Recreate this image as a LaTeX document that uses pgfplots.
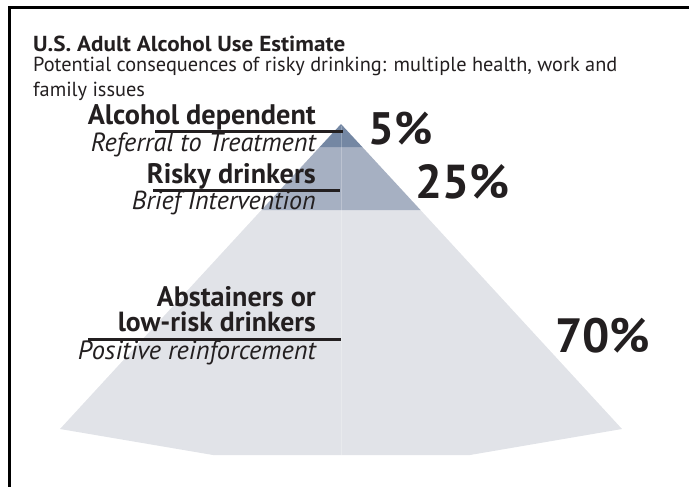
\documentclass[border=0pt]{standalone}
\usepackage{pgfplots}
\pgfplotsset{compat=1.18}
\usepackage{fontspec}
\setmainfont{PT Sans}
\usepackage{graphicx}
\definecolor{ink}{HTML}{231F20}
\definecolor{band1}{HTML}{7487A3}
\definecolor{band2}{HTML}{A6B0C2}
\definecolor{band3}{HTML}{E1E3E8}
\newcommand{\fw}[2]{\resizebox{#1bp}{!}{#2}}
\begin{document}
\begin{tikzpicture}
\useasboundingbox (0,0) rectangle (689bp,487bp);
\begin{axis}[
  at={(0,0)}, anchor=south west,
  scale only axis, width=689bp, height=487bp,
  xmin=0, xmax=689, ymin=0, ymax=487, y dir=reverse,
  hide axis, clip=false,
]
% pyramid bands
\addplot[fill=band3, draw=none] coordinates {(261.5,210) (420.5,210) (622,429) (470,455) (213,455) (60,429)} -- cycle;
\addplot[fill=band2, draw=none] coordinates {(319.7,147) (362.3,147) (420.5,210) (261.5,210)} -- cycle;
\addplot[fill=band1, draw=none] coordinates {(341,124) (362.3,147) (319.7,147)} -- cycle;
% centre seam
\addplot[white, opacity=0.25, line width=1bp] coordinates {(341,126) (341,455)};
% rules
\addplot[ink, line width=3bp] coordinates {(155,131) (343,131)};
\addplot[ink, line width=3bp] coordinates {(153,190) (340,190)};
\addplot[ink, line width=3bp] coordinates {(88,339) (341,339)};
% frame
\addplot[black, line width=3bp] coordinates {(9,487) (9,7.5) (689,7.5)};
% texts
\node[anchor=base west, inner sep=0, text=ink] at (axis cs:33,52) {\resizebox{312bp}{15.5bp}{\bfseries U.S. Adult Alcohol Use Estimate}};
\node[anchor=base west, inner sep=0, text=ink] at (axis cs:33,72) {\resizebox{584bp}{!}{\begin{tabular}[t]{@{}l@{}}Potential consequences of risky drinking: multiple health, work and\\ family issues\end{tabular}}};
\node[anchor=base east, inner sep=0, text=ink] at (axis cs:316,125) {\fw{228}{\bfseries Alcohol dependent}};
\node[anchor=base east, inner sep=0, text=ink] at (axis cs:316,152) {\fw{225}{\itshape Referral to Treatment}};
\node[anchor=base east, inner sep=0, text=ink] at (axis cs:316,183) {\fw{169}{\bfseries Risky drinkers}};
\node[anchor=base east, inner sep=0, text=ink] at (axis cs:316,209) {\fw{184}{\itshape Brief Intervention}};
\node[anchor=base east, inner sep=0, text=ink] at (axis cs:316,306) {\fw{159}{\bfseries Abstainers or}};
\node[anchor=base east, inner sep=0, text=ink] at (axis cs:316,331) {\fw{198}{\bfseries low-risk drinkers}};
\node[anchor=base east, inner sep=0, text=ink] at (axis cs:316,359) {\fw{238}{\itshape Positive reinforcement}};
\node[anchor=base west, inner sep=0, text=ink] at (axis cs:368,145) {\fw{64}{\bfseries 5\%}};
\node[anchor=base west, inner sep=0, text=ink] at (axis cs:415,199) {\fw{94}{\bfseries 25\%}};
\node[anchor=base west, inner sep=0, text=ink] at (axis cs:555,352) {\fw{95}{\bfseries 70\%}};
\end{axis}
\end{tikzpicture}
\end{document}
